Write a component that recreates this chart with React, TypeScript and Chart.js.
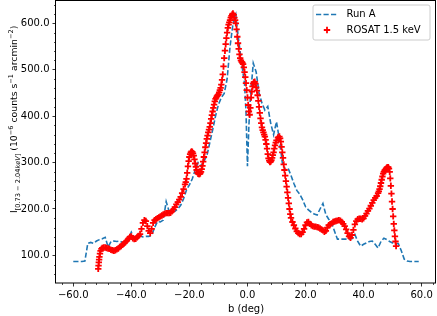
import React, { useEffect, useRef } from "react";
import { Chart, registerables } from "chart.js";

Chart.register(...registerables);

const FONT = "'DejaVu Sans', sans-serif";

// ---- Data: Run A (dashed blue line) ----
const runAB = [
  -60, -59, -58, -57, -56, -55, -54, -53, -52, -51,
  -50, -49, -48, -47, -46, -45, -44, -43, -42, -41,
  -40, -39, -38, -37, -36, -35, -34, -33, -32, -31,
  -30, -29, -28, -27, -26, -25, -24, -23, -22, -21,
  -20, -19, -18, -17, -16, -15, -14, -13, -12, -11,
  -10, -9, -8, -7, -6, -5, -4, -3, -2, -1,
  -0.5, 0, 0.5,
  1, 2, 3, 4, 5, 6, 7, 8, 9, 10,
  11, 12, 13, 14, 15, 16, 17, 18, 19, 20,
  21, 22, 23, 24, 25, 26, 27, 28, 29, 30,
  31, 32, 33, 34, 35, 36, 37, 38, 39, 40,
  41, 42, 43, 44, 45, 46, 47, 48, 49, 50,
  51, 52, 53, 54, 55, 56, 57, 58, 59,
];
const runAI = [
  87, 87, 87, 87, 88, 126, 128, 126, 131, 134,
  136, 139, 118, 130, 131, 130, 131, 128, 124, 135,
  150, 138, 140, 142, 140, 141, 141, 143, 160, 173,
  172, 176, 216, 195, 193, 195, 200, 208, 222, 241,
  252, 265, 284, 300, 292, 303, 314, 342, 370, 400,
  425, 440, 449, 480, 550, 598, 618, 562, 514, 470,
  410, 292, 380,
  440, 514, 495, 450, 428, 413, 421, 385, 360, 388,
  350, 300, 284, 288, 272, 255, 240, 232, 220, 205,
  198, 193, 189, 187, 200, 212, 188, 178, 170, 152,
  135, 135, 135, 135, 135, 136, 145, 130, 120, 124,
  127, 130, 131, 124, 116, 130, 137, 134, 130, 127,
  126, 125, 110, 92, 88, 87, 87, 87, 87,
];

// ---- Data: ROSAT 1.5 keV (red + markers) ----
const rosatB = [
  -51.4, -51.3, -51.2, -51.1, -51.0, -50.8, -50.6, -50.3, -50.0,
  -49.5, -49.0, -48.5, -48.0, -47.5, -47.0, -46.5, -46.0, -45.5, -45.0,
  -44.5, -44.0, -43.5, -43.0, -42.5, -42.0, -41.5, -41.0, -40.5, -40.0,
  -39.5, -39.0, -38.5, -38.0, -37.5, -37.0, -36.5, -36.0, -35.5, -35.0,
  -34.5, -34.0, -33.5, -33.0, -32.5, -32.0, -31.5, -31.0, -30.5, -30.0,
  -29.5, -29.0, -28.5, -28.0, -27.5, -27.0, -26.5, -26.0, -25.5, -25.0,
  -24.5, -24.0, -23.5, -23.0, -22.5, -22.0, -21.5, -21.25, -21.0, -20.75,
  -20.5, -20.25, -20.0, -19.75, -19.5, -19.25, -19.0, -18.75, -18.5, -18.25,
  -18.0, -17.75, -17.5, -17.25, -17.0, -16.75, -16.5, -16.25, -16.0, -15.75,
  -15.5, -15.25, -15.0, -14.75, -14.5, -14.25, -14.0, -13.75, -13.5, -13.25,
  -13.0, -12.75, -12.5, -12.25, -12.0, -11.75, -11.5, -11.25, -11.0, -10.75,
  -10.5, -10.25, -10.0, -9.75, -9.5, -9.25, -9.0, -8.75, -8.5, -8.25,
  -8.0, -7.75, -7.5, -7.25, -7.0, -6.75, -6.5, -6.25, -6.0, -5.75,
  -5.5, -5.25, -5.0, -4.75, -4.5, -4.25, -4.0, -3.75, -3.5, -3.25,
  -3.0, -2.75, -2.5, -2.25, -2.0, -1.75, -1.5, -1.25, -1.0, -0.75,
  -0.5, -0.25, 0.0, 0.25, 0.5, 0.75, 1.0, 1.25, 1.5, 1.75,
  2.0, 2.25, 2.5, 2.75, 3.0, 3.25, 3.5, 3.75, 4.0, 4.25,
  4.5, 4.75, 5.0, 5.25, 5.5, 5.75, 6.0, 6.25, 6.5, 6.75,
  7.0, 7.25, 7.5, 7.75, 8.0, 8.25, 8.5, 8.75, 9.0, 9.25,
  9.5, 9.75, 10.0, 10.5, 11.0, 11.25, 11.5, 11.75, 12.0, 12.25,
  12.5, 12.75, 13.0, 13.25, 13.5, 13.75, 14.0, 14.25, 14.5, 14.75,
  15.0, 15.5, 16.0, 16.5, 17.0, 17.5, 18.0, 18.5, 19.0, 19.5,
  20.0, 20.5, 21.0, 21.5, 22.0, 22.5, 23.0, 23.5, 24.0, 24.5,
  25.0, 25.5, 26.0, 26.5, 27.0, 27.5, 28.0, 28.5, 29.0, 29.5,
  30.0, 30.5, 31.0, 31.5, 32.0, 32.5, 33.0, 33.5, 34.0, 34.5,
  35.0, 35.5, 36.0, 36.5, 37.0, 37.5, 38.0, 38.5, 39.0, 39.5,
  40.0, 40.5, 41.0, 41.5, 42.0, 42.5, 43.0, 43.5, 44.0, 44.5,
  45.0, 45.25, 45.5, 45.75, 46.0, 46.25, 46.5, 46.75, 47.0, 47.25,
  47.5, 47.75, 48.0, 48.25, 48.5, 48.75, 49.0, 49.2, 49.4, 49.6,
  49.8, 50.0, 50.2, 50.4, 50.6, 50.8, 51.0, 51.2,
];
const rosatI = [
  71, 78, 85, 91, 97, 104, 110, 114, 116,
  117, 117, 116, 115, 114, 112, 111, 110, 111, 113,
  115, 118, 120, 123, 126, 129, 132, 136, 140, 141,
  137, 135, 136, 139, 142, 146, 157, 170, 176, 174,
  163, 153, 148, 157, 170, 176, 178, 180, 182, 184,
  186, 188, 190, 191, 191, 191, 192, 195, 199, 204,
  210, 215, 220, 226, 234, 243, 253, 258, 265, 278,
  292, 303, 312, 318, 322, 324, 323, 320, 315, 307,
  298, 291, 284, 279, 276, 275, 275, 277, 280, 286,
  293, 302, 312, 322, 333, 342, 351, 358, 365, 371,
  377, 385, 394, 402, 410, 418, 425, 432, 437, 440,
  443, 445, 447, 451, 456, 461, 468, 478, 490, 507,
  525, 541, 555, 568, 580, 590, 597, 602, 607, 612,
  616, 619, 621, 618, 612, 607, 600, 587, 571, 557,
  545, 533, 525, 520, 517, 515, 512, 505, 495, 484,
  471, 456, 440, 424, 410, 403, 418, 440, 453, 464,
  470, 473, 474, 470, 462, 455, 445, 433, 420, 407,
  395, 385, 376, 370, 365, 360, 356, 349, 340, 330,
  318, 309, 304, 301, 302, 305, 310, 316, 322, 330,
  337, 343, 348, 354, 356, 352, 345, 334, 322, 310,
  296, 284, 272, 260, 248, 236, 224, 212, 200, 189,
  181, 172, 165, 158, 152, 148, 146, 146, 150, 157,
  165, 171, 172, 168, 165, 163, 162, 162, 161, 160,
  158, 156, 154, 151, 153, 160, 165, 167, 169, 172,
  173, 174, 175, 176, 175, 172, 168, 163, 156, 148,
  141, 138, 144, 155, 167, 174, 178, 179, 179, 178,
  180, 185, 190, 196, 201, 207, 213, 219, 224, 228,
  234, 238, 243, 249, 256, 263, 270, 276, 280, 283,
  285, 287, 289, 290, 290, 287, 280, 266, 250, 233,
  216, 200, 184, 168, 154, 141, 130, 120,
];

const seriesLabels = ["Run A", "ROSAT 1.5 keV"];
const xTitle = "b (deg)";
const xTickValues = [-60, -40, -20, 0, 20, 40, 60];
const yTickValues = [100, 200, 300, 400, 500, 600];
const xMinorStep = 4;
const yMinorStep = 20;
const xLimits = [-65.95, 64.95];
const yLimits = [40.6, 648];

// y-axis title pieces (mathtext-like)
const yTitleParts = [
  { text: "I", kind: "n" },
  { text: "[0.73 \u2212 2.04", kind: "sub" },
  { text: "keV", kind: "subi" },
  { text: "]", kind: "sub" },
  { text: " (10", kind: "n" },
  { text: "\u22126", kind: "sup" },
  { text: " counts s", kind: "n" },
  { text: "\u22121", kind: "sup" },
  { text: " arcmin", kind: "n" },
  { text: "\u22122", kind: "sup" },
  { text: ")", kind: "n" },
];

const fmt = (v: number) => v.toFixed(1).replace("-", "\u2212");

const zeroPad = (s: any) => {
  s.paddingTop = 0;
  s.paddingBottom = 0;
  s.paddingLeft = 0;
  s.paddingRight = 0;
};

const decorPlugin = {
  id: "decor",
  afterDatasetsDraw(chart: any) {
    const { ctx, chartArea: a, scales } = chart;
    const xs = scales.x;
    const ys = scales.y;
    ctx.save();
    ctx.strokeStyle = "#000";
    ctx.lineWidth = 0.7;
    ctx.beginPath();
    for (let v = Math.ceil(xs.min / xMinorStep) * xMinorStep; v <= xs.max; v += xMinorStep) {
      if (xTickValues.includes(v)) continue;
      const px = Math.round(xs.getPixelForValue(v)) + 0.5;
      ctx.moveTo(px, a.bottom);
      ctx.lineTo(px, a.bottom + 2);
    }
    for (let v = Math.ceil(ys.min / yMinorStep) * yMinorStep; v <= ys.max; v += yMinorStep) {
      if (yTickValues.includes(v)) continue;
      const py = Math.round(ys.getPixelForValue(v)) + 0.5;
      ctx.moveTo(a.left, py);
      ctx.lineTo(a.left - 2, py);
    }
    ctx.stroke();
    ctx.lineWidth = 1;
    ctx.strokeRect(Math.round(a.left) - 0.5, Math.round(a.top) - 0.5, Math.round(a.right - a.left), Math.round(a.bottom - a.top) + 0.5);
    ctx.restore();
  },
  afterDraw(chart: any) {
    const { ctx } = chart;
    ctx.save();
    ctx.translate(17.3, 213);
    ctx.rotate(-Math.PI / 2);
    ctx.fillStyle = "#000";
    ctx.textBaseline = "alphabetic";
    ctx.textAlign = "left";
    let x = 0;
    for (const p of yTitleParts) {
      const size = p.kind === "n" ? 9.3 : 6.6;
      const style = p.kind === "subi" ? "italic " : "";
      ctx.font = `${style}${size}px ${FONT}`;
      const dy = p.kind === "sup" ? -4 : p.kind.startsWith("sub") ? 2.8 : 0;
      ctx.fillText(p.text, x, dy);
      x += ctx.measureText(p.text).width;
    }
    ctx.restore();

    const ds = chart.data.datasets;
    ctx.save();
    const bx = 313, by = 5, bw = 117, bh = 35, r = 2;
    ctx.beginPath();
    ctx.moveTo(bx + r, by);
    ctx.lineTo(bx + bw - r, by);
    ctx.arcTo(bx + bw, by, bx + bw, by + r, r);
    ctx.lineTo(bx + bw, by + bh - r);
    ctx.arcTo(bx + bw, by + bh, bx + bw - r, by + bh, r);
    ctx.lineTo(bx + r, by + bh);
    ctx.arcTo(bx, by + bh, bx, by + bh - r, r);
    ctx.lineTo(bx, by + r);
    ctx.arcTo(bx, by, bx + r, by, r);
    ctx.closePath();
    ctx.fillStyle = "rgba(255,255,255,0.8)";
    ctx.fill();
    ctx.strokeStyle = "#cccccc";
    ctx.lineWidth = 1;
    ctx.stroke();

    ctx.strokeStyle = ds[0].borderColor;
    ctx.lineWidth = ds[0].borderWidth;
    ctx.setLineDash(ds[0].borderDash);
    ctx.beginPath();
    ctx.moveTo(316, 14.5);
    ctx.lineTo(338, 14.5);
    ctx.stroke();
    ctx.setLineDash([]);
    ctx.strokeStyle = ds[1].pointBorderColor;
    ctx.lineWidth = ds[1].pointBorderWidth;
    ctx.beginPath();
    ctx.moveTo(327 - 3.2, 30);
    ctx.lineTo(327 + 3.2, 30);
    ctx.moveTo(327, 30 - 3.2);
    ctx.lineTo(327, 30 + 3.2);
    ctx.stroke();

    ctx.fillStyle = "#000";
    ctx.font = `10px ${FONT}`;
    ctx.textBaseline = "middle";
    ctx.textAlign = "left";
    ctx.fillText(ds[0].label, 346.5, 14.5);
    ctx.fillText(ds[1].label, 346.5, 30);
    ctx.restore();
  },
};

export default function App() {
  const ref = useRef<HTMLCanvasElement>(null);
  useEffect(() => {
    const canvas = ref.current!;
    const chart = new Chart(canvas, {
      type: "line",
      data: {
        datasets: [
          {
            label: seriesLabels[0],
            data: runAB.map((b, i) => ({ x: b, y: runAI[i] })),
            borderColor: "#1f77b4",
            borderWidth: 1.6,
            borderDash: [5.2, 2.3],
            pointRadius: 0,
            fill: false,
            tension: 0,
            order: 2,
          },
          {
            label: seriesLabels[1],
            data: rosatB.map((b, i) => ({ x: b, y: rosatI[i] })),
            showLine: false,
            borderColor: "#ff0000",
            backgroundColor: "#ff0000",
            pointBorderColor: "#ff0000",
            pointStyle: "cross",
            pointRadius: 3.2,
            pointBorderWidth: 1.8,
            order: 1,
          },
        ],
      } as any,
      options: {
        responsive: false,
        animation: false,
        events: [],
        layout: { autoPadding: false, padding: { left: 0, right: 1, top: 1, bottom: 0 } },
        plugins: { legend: { display: false }, tooltip: { enabled: false } },
        scales: {
          x: {
            type: "linear",
            position: "bottom",
            min: xLimits[0],
            max: xLimits[1],
            afterBuildTicks: (s: any) => {
              s.ticks = xTickValues.map((v) => ({ value: v }));
            },
            afterFit: (s: any) => {
              s.height = 33;
              zeroPad(s);
            },
            ticks: {
              callback: (v: any) => fmt(Number(v)),
              font: { family: FONT, size: 10 },
              color: "#000",
              padding: 2.5,
              maxRotation: 0,
              autoSkip: false,
            },
            grid: {
              display: true,
              drawOnChartArea: false,
              drawTicks: true,
              tickLength: 3.5,
              tickWidth: 0.8,
              tickColor: "#000",
              color: "#000",
            },
            border: { display: false },
            title: {
              display: true,
              text: xTitle,
              font: { family: FONT, size: 10 },
              color: "#000",
              padding: { top: 0, bottom: 0.5 },
            },
          },
          y: {
            type: "linear",
            position: "left",
            min: yLimits[0],
            max: yLimits[1],
            afterBuildTicks: (s: any) => {
              s.ticks = yTickValues.map((v) => ({ value: v }));
            },
            afterFit: (s: any) => {
              s.width = 56;
              zeroPad(s);
            },
            ticks: {
              callback: (v: any) => fmt(Number(v)),
              font: { family: FONT, size: 10 },
              color: "#000",
              padding: 3,
              autoSkip: false,
            },
            grid: {
              display: true,
              drawOnChartArea: false,
              drawTicks: true,
              tickLength: 3.5,
              tickWidth: 0.8,
              tickColor: "#000",
              color: "#000",
            },
            border: { display: false },
          },
        },
      } as any,
      plugins: [decorPlugin],
    });
    return () => chart.destroy();
  }, []);
  return (
    <canvas
      ref={ref}
      width={437}
      height={316}
      style={{ position: "absolute", left: 0, top: 0, width: 437, height: 316 }}
    />
  );
}
